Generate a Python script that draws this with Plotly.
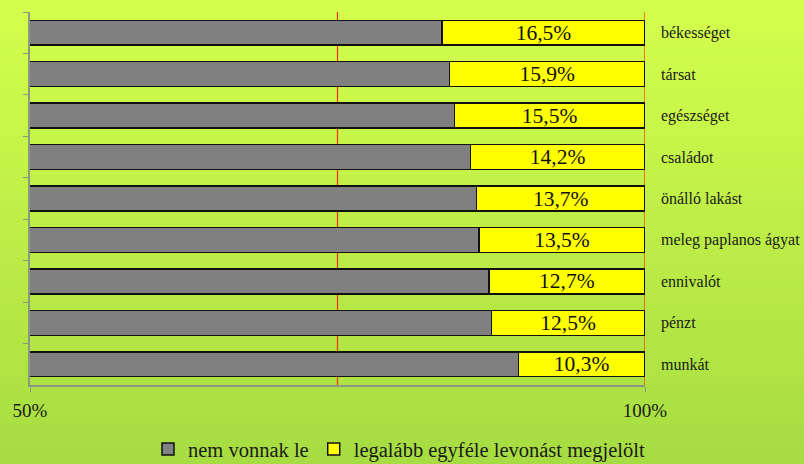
import plotly.graph_objects as go

categories = ["békességet", "társat", "egészséget", "családot", "önálló lakást",
              "meleg paplanos ágyat", "ennivalót", "pénzt", "munkát"]
marked = [16.5, 15.9, 15.5, 14.2, 13.7, 13.5, 12.7, 12.5, 10.3]
not_marked = [round(100 - v, 1) for v in marked]
series_names = ["nem vonnak le", "legalább egyféle levonást megjelölt"]
x_ticks = [50, 100]
x_tick_labels = ["50%", "100%"]

FONT = "Liberation Serif, Times New Roman, serif"
W, H = 804, 464
ML, MR, MT, MB = 30, 159, 12, 79
PW, PH = W - ML - MR, H - MT - MB

fig = go.Figure()
fig.add_trace(go.Bar(
    y=categories, x=not_marked, orientation="h", name=series_names[0],
    marker=dict(color="#808080", line=dict(color="#111111", width=1.5)),
    width=0.6, hoverinfo="x+y",
))
fig.add_trace(go.Bar(
    y=categories, x=marked, orientation="h", name=series_names[1],
    marker=dict(color="#ffff00", line=dict(color="#111111", width=1.5)),
    width=0.6, texttemplate="%{x:.1f}%", textposition="inside",
    insidetextanchor="middle", textangle=0,
    textfont=dict(family=FONT, size=21.5, color="#111111"),
    constraintext="none",
))

shapes = []
# gradient background
top = (213, 255, 76)
bot = (166, 220, 66)
n = 60
y0p = -MB / PH - 0.02
y1p = 1 + MT / PH + 0.02
for i in range(n):
    t = i / (n - 1)
    c = tuple(int(round(top[k] + (bot[k] - top[k]) * t)) for k in range(3))
    ya = y1p - (y1p - y0p) * i / n
    yb = y1p - (y1p - y0p) * (i + 1) / n
    shapes.append(dict(type="rect", xref="paper", yref="paper",
                       x0=-ML / PW - 0.02, x1=1 + MR / PW + 0.02,
                       y0=yb - 0.003, y1=ya + 0.003,
                       fillcolor="rgb(%d,%d,%d)" % c, line=dict(width=0),
                       layer="below"))
for xv in (75, 100):
    shapes.append(dict(type="line", xref="x", yref="paper", x0=xv, x1=xv,
                       y0=0, y1=1, line=dict(color="#ff2a00", width=1.2),
                       layer="below"))

annotations = []
for c in categories:
    annotations.append(dict(xref="paper", yref="y", x=1 + 14 / PW, y=c,
                            text=c, showarrow=False, xanchor="left",
                            font=dict(family=FONT, size=16, color="#1a1a1a")))

fig.update_layout(
    width=W, height=H,
    margin=dict(l=ML, r=MR, t=MT, b=MB, autoexpand=False),
    barmode="stack", separators=",.",
    paper_bgcolor="#b8e848", plot_bgcolor="rgba(0,0,0,0)",
    font=dict(family=FONT, color="#1a1a1a"),
    shapes=shapes, annotations=annotations,
    showlegend=True,
    legend=dict(orientation="h", x=0.6, xanchor="center", y=-0.172,
                yanchor="middle", font=dict(family=FONT, size=20.5, color="#1a1a1a"),
                bgcolor="rgba(0,0,0,0)", itemwidth=30, traceorder="normal"),
    xaxis=dict(range=[50, 100], tickvals=x_ticks, ticktext=x_tick_labels,
               showgrid=False, zeroline=False, showline=True,
               linecolor="#8a9a80", linewidth=1.5, ticks="outside",
               ticklen=5, tickcolor="#8a9a80", ticklabelstandoff=2,
               tickfont=dict(family=FONT, size=19, color="#1a1a1a")),
    yaxis=dict(categoryorder="array", categoryarray=categories,
               autorange="reversed", showticklabels=False,
               showgrid=False, showline=True, linecolor="#8a9a80",
               linewidth=1.5, ticks="outside", tickson="boundaries",
               ticklen=5, tickcolor="#8a9a80"),
)

fig.write_html("out.html", config={"displayModeBar": False},
               post_script="document.body.style.margin='0';document.body.style.padding='0';")
